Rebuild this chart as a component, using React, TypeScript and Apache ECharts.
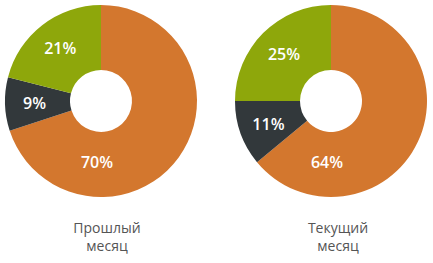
import React, { useEffect, useRef } from "react";
import * as echarts from "echarts";

const categories = ["Основное", "Прочее", "Дополнительно"];
const prevMonth = [70, 9, 21];
const currMonth = [64, 11, 25];
const titles = ["Прошлый\nмесяц", "Текущий\nмесяц"];
const colors = ["#d3772e", "#32383b", "#8ea70b"];

const CY = 101;
const CENTERS = [101, 331];

export default function App() {
  const ref = useRef<HTMLDivElement>(null);
  useEffect(() => {
    if (!ref.current) return;
    const chart = echarts.init(ref.current, undefined, { renderer: "svg" });
    const mk = (vals: number[], cx: number) => ({
      type: "pie",
      center: [cx, CY],
      radius: [31, 96],
      startAngle: 90,
      clockwise: true,
      color: colors,
      silent: true,
      label: {
        show: true,
        position: "inside",
        formatter: "{c}%",
        color: "#ffffff",
        fontSize: 16,
        fontWeight: 600,
        fontFamily: "Open Sans",
      },
      labelLayout: (p: any) => {
        if (p.dataIndex === 0) {
          return { x: cx - 4, y: CY + 61 };
        }
        return {};
      },
      labelLine: { show: false },
      itemStyle: { borderWidth: 0 },
      data: vals.map((v, i) => ({ name: categories[i], value: v })),
    });
    chart.setOption({
      animation: false,
      title: titles.map((t, i) => ({
        text: t,
        left: i === 0 ? 102 : 333,
        top: 213,
        textAlign: "center",
        textStyle: {
          color: "#555555",
          fontSize: 14,
          fontWeight: 400,
          fontFamily: "Open Sans",
          lineHeight: 18,
        },
      })),
      series: [mk(prevMonth, CENTERS[0]), mk(currMonth, CENTERS[1])],
    });
    return () => chart.dispose();
  }, []);
  return (
    <div
      ref={ref}
      style={{ position: "fixed", left: 0, top: 0, width: 433, height: 263, background: "#fff" }}
    />
  );
}
